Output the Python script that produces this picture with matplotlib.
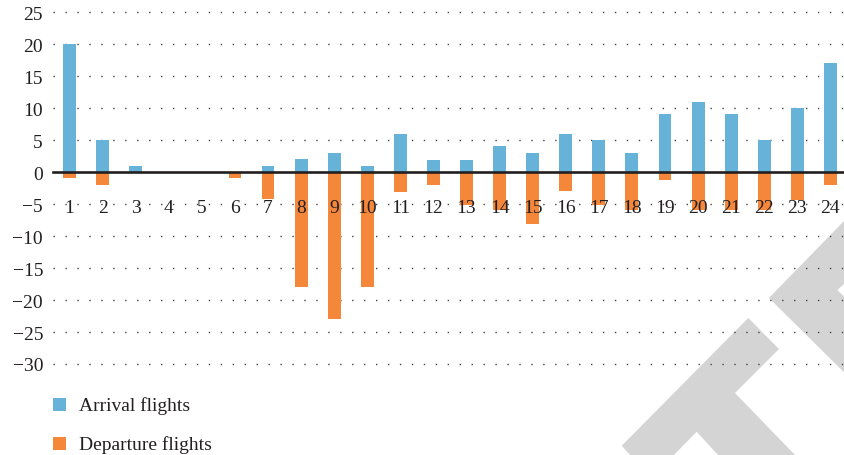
import matplotlib
matplotlib.use("Agg")
import matplotlib.pyplot as plt
from matplotlib.patches import Rectangle, Polygon
import numpy as np

# Hourly arrival / departure flight differences
hours = list(range(1, 25))
arrivals = [20, 5, 1, 0, 0, 0, 1, 2, 3, 1, 6, 1.8, 1.8, 4, 3, 6, 5, 3, 9, 11, 9, 5, 10, 17]
departures = [-1, -2, 0, 0, 0, -1, -4.2, -18, -23, -18, -3.2, -2, -5.2, -5.9, -8.2, -3,
              -5.1, -6, -1.2, -5.9, -6, -5.9, -4.3, -2.1]
series_names = ["Arrival flights", "Departure flights"]
y_ticks = list(range(-30, 30, 5))

blue = "#66b2d9"
orange = "#f5873a"
ink = "#231f20"
font = ["Liberation Serif", "DejaVu Serif"]
fs = 14

W, H = 844, 456
fig = plt.figure(figsize=(W / 100, H / 100), dpi=100)

def px(x, y):
    # figure pixel (from top-left) -> figure fraction
    return x / W, 1 - y / H

# watermark shapes in the lower right corner
wm_color = "#d4d4d4"
shape1 = [(630, 456), (621.7, 446.7), (748.3, 319), (779, 350), (735, 394),
          (795, 456), (718, 456), (696.7, 432.7), (674, 456)]
shape2 = [(769, 299), (844, 222), (844, 285), (837.3, 291), (844, 297.5), (844, 373.3)]
for shp in (shape1, shape2):
    fig.add_artist(Polygon([px(*p) for p in shp], closed=True, facecolor=wm_color,
                           edgecolor="none", transform=fig.transFigure, zorder=0))

ax = fig.add_axes([53 / W, (H - 365) / H, (W - 53) / W, (365 - 13) / H])
ax.patch.set_alpha(0)
ax.set_zorder(1)

x = np.array(hours)
bw = 0.39
ax.bar(x, arrivals, width=bw, color=blue, zorder=2)
ax.bar(x, departures, width=bw, color=orange, zorder=2)

for yt in y_ticks:
    if yt == 0:
        continue
    ax.axhline(yt, color="#444444", linewidth=1.0, linestyle=(0, (1, 7.6)), zorder=1,
               clip_on=False)
ax.axhline(0, color=ink, linewidth=1.9, zorder=3, clip_on=False)

ax.set_xlim(0.5, 24.41)
ax.set_ylim(-30, 25)

ax.set_yticks(y_ticks)
ax.set_yticklabels([str(v).replace("-", "\u2212") for v in y_ticks],
                   fontfamily=font, fontsize=fs, color=ink)
ax.tick_params(axis="y", length=0, pad=7.2)
ax.set_xticks([])
for s in ax.spines.values():
    s.set_visible(False)

for h in hours:
    ax.text(h, -6.25, str(h), ha="center", va="baseline", fontfamily=font,
            fontsize=fs, color=ink, zorder=4)

# legend
for i, (name, col) in enumerate(zip(series_names, [blue, orange])):
    top = 399 + i * 39
    fig.add_artist(Rectangle(px(53, top + 13), 13 / W, 13 / H, facecolor=col,
                             edgecolor="none", transform=fig.transFigure))
    fx, fy = px(79, top + 7)
    fig.text(fx, fy, name, ha="left", va="center", fontfamily=font, fontsize=fs,
             color=ink)

fig.savefig("out.png", dpi=100)
